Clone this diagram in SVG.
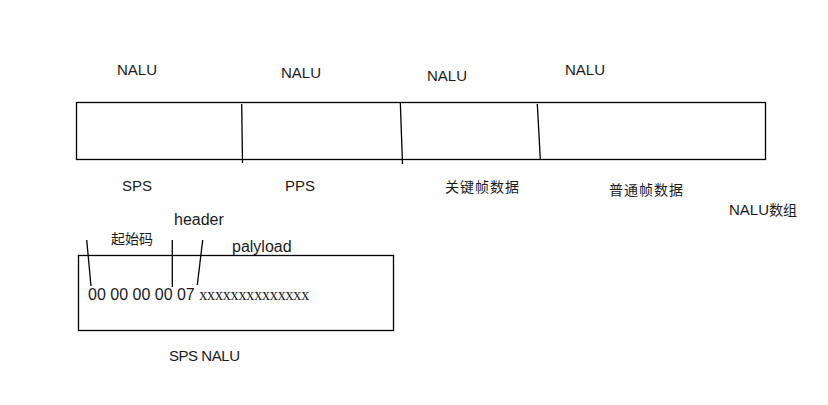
<svg xmlns="http://www.w3.org/2000/svg" width="828" height="405" viewBox="0 0 828 405">
<style>
.t{font-family:"Liberation Sans","Noto Sans CJK SC",sans-serif;font-size:15px;fill:#1a1a1a}
.b{font-size:16px}
.c{font-family:"Noto Sans CJK SC","Liberation Sans",sans-serif;font-size:14px;fill:#1a1a1a}
.s{font-family:"Liberation Serif",serif;font-size:16px;fill:#1a1a1a}
.ln{stroke:#000;stroke-width:1.3;fill:none}
</style>
<rect width="828" height="405" fill="#fff"/>
<g id="nalu-array">
<rect class="ln" x="76.5" y="102.5" width="689" height="57"/>
<text class="t" x="117" y="75">NALU</text>
<text class="t" x="281" y="77.5">NALU</text>
<text class="t" x="427" y="81">NALU</text>
<text class="t" x="565" y="75">NALU</text>
<text class="t" x="122" y="191">SPS</text>
<text class="t" x="285" y="191">PPS</text>
<text class="c" x="445" y="192" textLength="74">关键帧数据</text>
<text class="c" x="609" y="195" textLength="74">普通帧数据</text>
<text class="t" x="729" y="215">NALU<tspan class="c">数组</tspan></text>
</g>
<g id="sps-nalu">
<rect class="ln" x="78.5" y="255.5" width="315" height="75"/>
<text class="t b" x="174" y="225">header</text>
<text class="c" x="111" y="244">起始码</text>
<text class="t b" x="232" y="252">palyload</text>
<text class="t b" x="88" y="300">00 00 00 00 07 <tspan class="s" textLength="110">xxxxxxxxxxxxxx</tspan></text>
<text class="t" x="169" y="361" textLength="71">SPS NALU</text>
</g>
<g id="connectors">
<path class="ln" d="M241.7 104 L242.5 163"/>
<path class="ln" d="M400.3 102 L402.5 164"/>
<path class="ln" d="M537.3 104 L540.3 159"/>
<path class="ln" d="M86.7 240 L91 286"/>
<path class="ln" d="M172.3 240 L172.3 287"/>
<path class="ln" d="M202.7 240 L197.3 285"/>
</g>
</svg>
